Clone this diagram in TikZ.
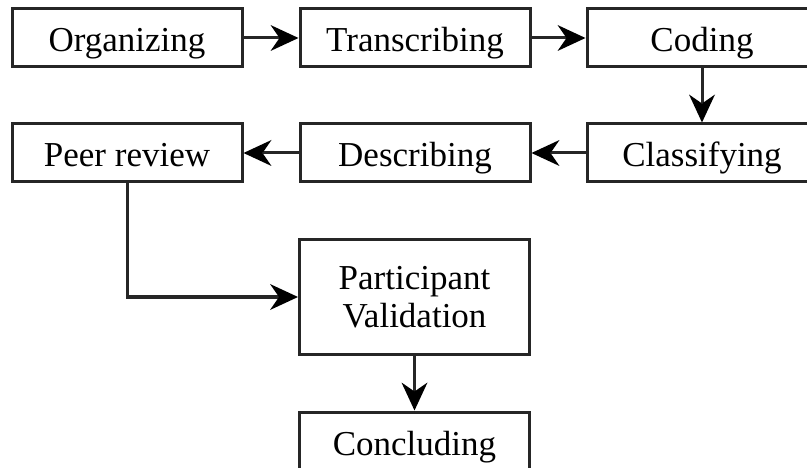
\documentclass[tikz,border=0pt]{standalone}
\usepackage{fontspec}
\setmainfont{Liberation Serif}
\usetikzlibrary{arrows.meta}
\begin{document}
\begin{tikzpicture}[x=1pt,y=-1pt,
  boxline/.style={draw=black!85, line width=3pt, fill=white, minimum width=230pt, inner sep=0pt},
  stepbox/.style={boxline, minimum height=58pt, text height=28pt, text depth=0pt, font=\fontsize{35}{39}\selectfont},
  txt/.style={align=center, inner sep=0pt, font=\fontsize{35}{38}\selectfont},
  conn/.style={draw=black!85, line width=3pt, -{Stealth[length=28pt,width=26pt,inset=9pt,line width=0pt,fill=black]}}]
\useasboundingbox[fill=white] (0,0) rectangle (807,468);
\node[stepbox] (org) at (127,38) {Organizing};
\node[stepbox] (tra) at (415,38) {Transcribing};
\node[stepbox] (cod) at (702,38) {Coding};
\node[stepbox] (cla) at (702,153) {Classifying};
\node[stepbox] (des) at (415,153) {Describing};
\node[stepbox] (peer) at (127,153) {Peer review};
\node[boxline, minimum height=114pt] (par) at (414.5,297) {};
\node[txt] (partxt) at (par.center) {Participant\\Validation};
\node[stepbox] (con) at (414.5,441) {Concluding};
\draw[conn] (org) -- (tra);
\draw[conn] (tra) -- (cod);
\draw[conn] (cod) -- (cla);
\draw[conn] (cla) -- (des);
\draw[conn] (des) -- (peer);
\draw[conn] (peer) |- (par);
\draw[conn] (par) -- (con);
\end{tikzpicture}
\end{document}
